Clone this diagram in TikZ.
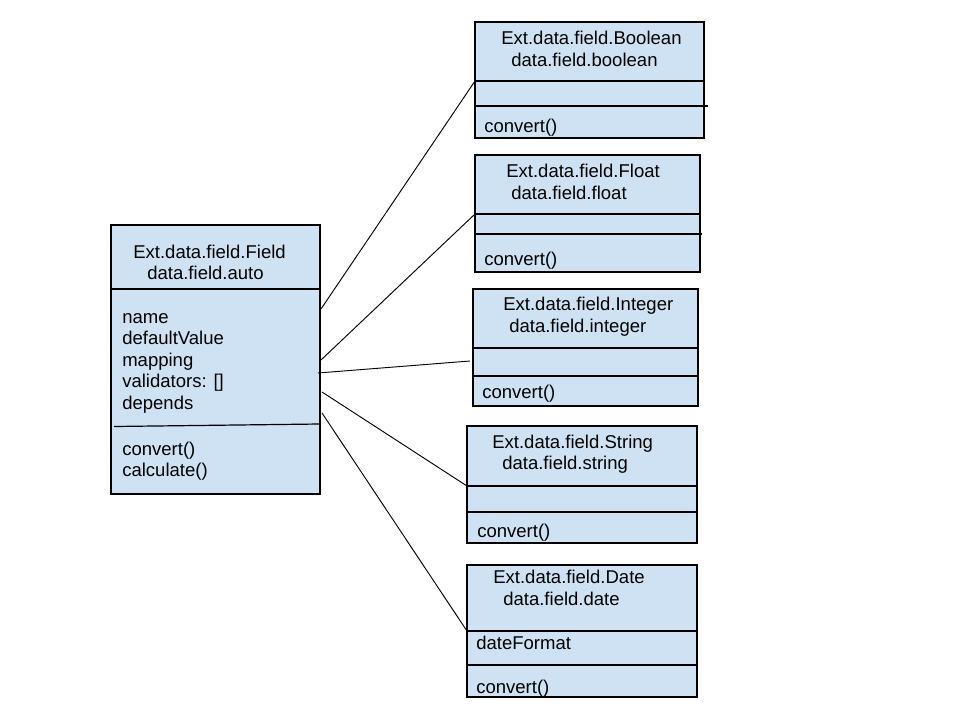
\documentclass[tikz,border=0pt]{standalone}
\usepackage{fontspec}
\setmainfont{Liberation Sans}
\usetikzlibrary{fit}
\definecolor{classblue}{HTML}{CFE2F3}

\begin{document}
\begin{tikzpicture}[x=0.75pt, y=-0.75pt,
        classbox/.style={draw=black, fill=classblue, line width=1pt, inner sep=0pt},
        divider/.style={line width=0.9pt},
        txt/.style={anchor=base west, inner sep=0pt, font=\fontsize{13.9}{16}\selectfont},
        assoc/.style={line width=0.7pt}]
        \useasboundingbox (0,0) rectangle (960,720);

        % base class
        \node[classbox, fit={(111,225) (320,494)}] (field) {};
        \draw[divider] (111,289) -- (320,289);
        \draw[divider] (114,426.5) -- (320,424);
        \node[txt] (fieldname) at (133,259) {Ext.data.field.Field};
        \node[txt] (fieldtype) at (147,280) {data.field.auto};
        \foreach \attr [count=\i] in {name, defaultValue, mapping, {validators: []}, depends}
            \node[txt] (fieldattr\i) at (122,302+21.4*\i) {\attr};
        \node[txt] (fieldconvert) at (122,455) {convert()};
        \node[txt] (fieldcalc) at (122,476.5) {calculate()};

        % Boolean
        \node[classbox, fit={(475,22) (704,138)}] (boolean) {};
        \draw[divider] (475,81) -- (704,81);
        \draw[divider] (475,106) -- (708,106);
        \node[txt] (booleanname) at (501,45) {Ext.data.field.Boolean};
        \node[txt] (booleantype) at (511,66.5) {data.field.boolean};
        \node[txt] (booleanconvert) at (484,132.5) {convert()};

        % Float
        \node[classbox, fit={(475,155) (700,272)}] (float) {};
        \draw[divider] (475,214) -- (700,214);
        \draw[divider] (475,234) -- (702,234);
        \node[txt] (floatname) at (506,177.5) {Ext.data.field.Float};
        \node[txt] (floattype) at (511,199.5) {data.field.float};
        \node[txt] (floatconvert) at (484,266) {convert()};

        % Integer
        \node[classbox, fit={(473,289) (698,406)}] (integer) {};
        \draw[divider] (473,348) -- (698,348);
        \draw[divider] (473,376) -- (698,376);
        \node[txt] (integername) at (503,310.5) {Ext.data.field.Integer};
        \node[txt] (integertype) at (509,332) {data.field.integer};
        \node[txt] (integerconvert) at (482,398) {convert()};

        % String
        \node[classbox, fit={(467,426) (697,543)}] (string) {};
        \draw[divider] (467,486) -- (697,486);
        \draw[divider] (467,512) -- (697,512);
        \node[txt] (stringname) at (492,448) {Ext.data.field.String};
        \node[txt] (stringtype) at (502,469.5) {data.field.string};
        \node[txt] (stringconvert) at (477,537) {convert()};

        % Date
        \node[classbox, fit={(467,565) (697,697)}] (date) {};
        \draw[divider] (467,631) -- (697,631);
        \draw[divider] (467,665) -- (698,665);
        \node[txt] (datename) at (493,583.5) {Ext.data.field.Date};
        \node[txt] (datetype) at (503,605) {data.field.date};
        \node[txt] (dateformat) at (476,649) {dateFormat};
        \node[txt] (dateconvert) at (476,693) {convert()};

        % links
        \coordinate (fieldout1) at (321,309);
        \coordinate (fieldout2) at (321,360);
        \coordinate (fieldout3) at (318,373);
        \coordinate (fieldout4) at (322,392);
        \coordinate (fieldout5) at (322,413);
        \coordinate (booleanin) at (475,81);
        \coordinate (floatin) at (475,214);
        \coordinate (integerin) at (470,361);
        \coordinate (stringin) at (467,486);
        \coordinate (datein) at (467,631);
        \draw[assoc] (fieldout1) -- (booleanin);
        \draw[assoc] (fieldout2) -- (floatin);
        \draw[assoc] (fieldout3) -- (integerin);
        \draw[assoc] (fieldout4) -- (stringin);
        \draw[assoc] (fieldout5) -- (datein);
\end{tikzpicture}
\end{document}
